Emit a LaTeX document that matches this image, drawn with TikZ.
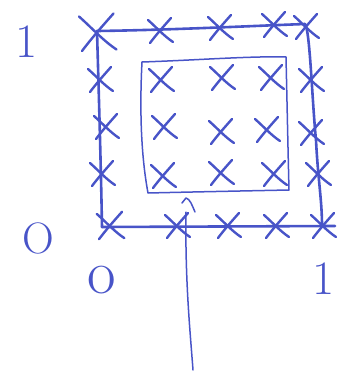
\documentclass[tikz,border=0pt]{standalone}
\usepackage{fontspec}
\begin{document}
\begin{tikzpicture}[x=1pt,y=-1pt,
  ink/.style={draw=penblue,line cap=round,line join=round},
  thick ink/.style={ink,line width=2.6pt},
  thin ink/.style={ink,line width=1.5pt},
  lbl/.style={text=penblue,font=\fontsize{48}{48}\selectfont,inner sep=0pt},
  xmark/.pic={\draw[ink,line width=2.4pt] (-12,-11) .. controls (-3,-3) and (4,5) .. (13,11);
              \draw[ink,line width=2.4pt] (11,-13) .. controls (3,-4) and (-4,4) .. (-10,12);}
]
\definecolor{penblue}{RGB}{72,84,200}
\useasboundingbox (0,0) rectangle (342,373);
% outer square corners
\coordinate (o1) at (97,31);
\coordinate (o2) at (305,24);
\coordinate (o3) at (322,226);
\coordinate (o4) at (102,227);
\coordinate (o3b) at (335,226);
\draw[thick ink] (o1) .. controls (170,30) and (250,26) .. (o2);
\draw[thick ink] (o2) .. controls (310,30) and (312,100) .. (316,140) .. controls (318,180) and (322,200) .. (o3);
\draw[thick ink] (o4) -- (o3b);
\draw[thick ink] (o1) .. controls (99,100) and (101,170) .. (o4);
% inner square
\coordinate (i1) at (142,62);
\coordinate (i2) at (286,57);
\coordinate (i3) at (289,190);
\coordinate (i4) at (148,193);
\draw[thin ink] (i1) .. controls (200,60) and (250,56) .. (i2)
  .. controls (287,100) and (288,150) .. (i3)
  .. controls (240,191) and (190,192) .. (i4)
  .. controls (140,150) and (140,100) .. (i1);
% outer crosses
\pic[scale=1.5] at (97,33) {xmark};
\pic at (160,31) {xmark};
\pic at (220,28) {xmark};
\pic at (274,25) {xmark};
\pic at (306,27) {xmark};
\pic at (100,80) {xmark};
\pic at (106,127) {xmark};
\pic at (102,174) {xmark};
\pic[scale=1.1] at (110,226) {xmark};
\pic at (177,226) {xmark};
\pic at (228,226) {xmark};
\pic at (276,226) {xmark};
\pic at (323,226) {xmark};
\pic at (311,80) {xmark};
\pic at (311,133) {xmark};
\pic at (318,174) {xmark};
% inner crosses
\pic at (161,80) {xmark};
\pic at (222,78) {xmark};
\pic at (271,78) {xmark};
\pic at (164,127) {xmark};
\pic at (221,132) {xmark};
\pic at (267,130) {xmark};
\pic at (163,176) {xmark};
\pic at (221,173) {xmark};
\pic at (274,174) {xmark};
% pointer line
\coordinate (h0) at (182,203);
\coordinate (h1) at (186,198);
\coordinate (h2) at (195,212);
\coordinate (p0) at (186,212);
\coordinate (p1) at (193,370);
\draw[thin ink] (h0) -- (h1) .. controls (190,199) and (192,205) .. (h2);
\draw[thin ink] (p0) .. controls (185,280) and (190,330) .. (p1);
% labels
\node[lbl] (one1) at (27,42) {1};
\node[lbl,font=\fontsize{44}{44}\selectfont] (zero1) at (38,238) {O};
\node[lbl,font=\fontsize{62}{62}\selectfont] (zero2) at (102,280) {o};
\node[lbl] (one2) at (324,279) {1};
\end{tikzpicture}
\end{document}
